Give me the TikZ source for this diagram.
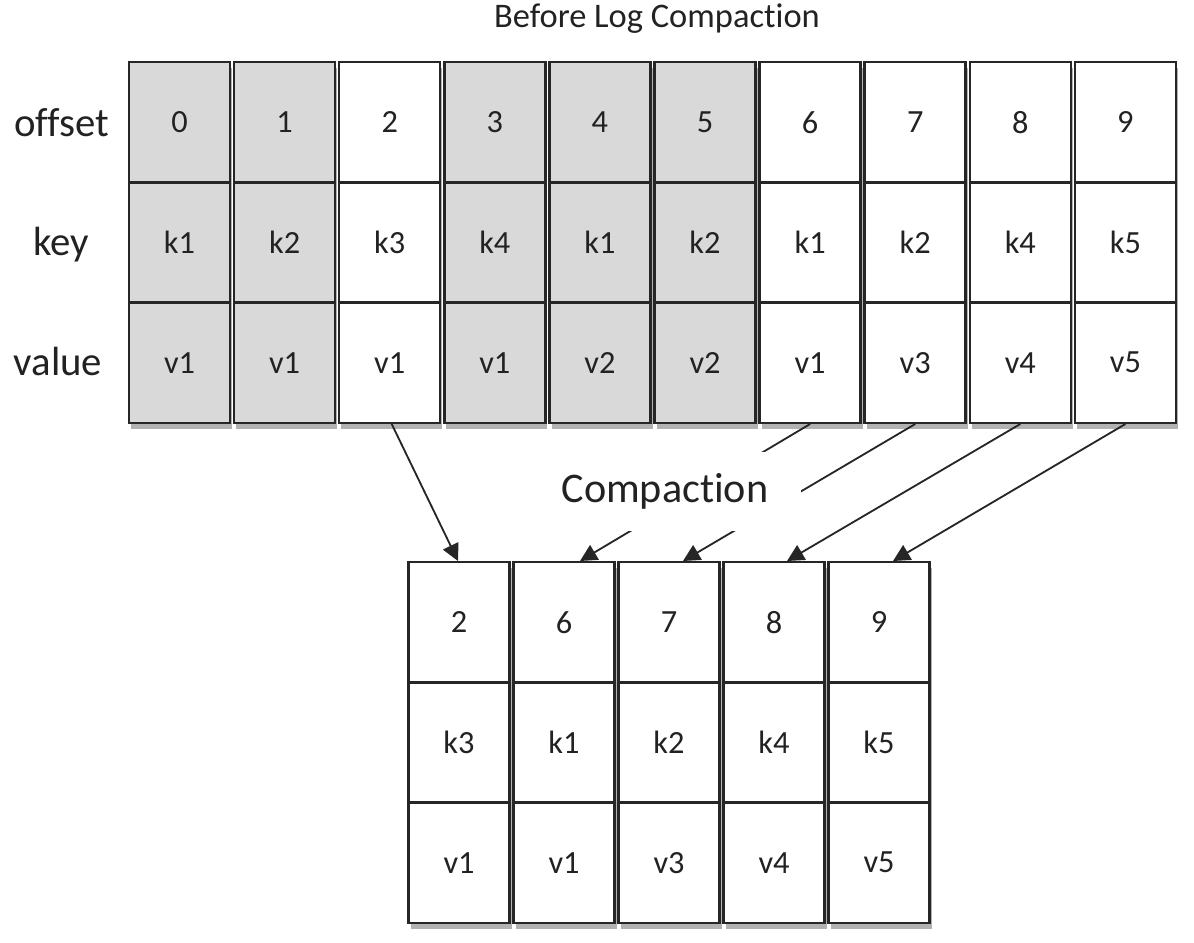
\documentclass[tikz,border=0pt]{standalone}
\usepackage{fontspec}
\setmainfont[Ligatures={NoCommon}]{Carlito}
\usetikzlibrary{arrows.meta,shadows,calc}
\definecolor{cellgray}{HTML}{D9D9D9}
\definecolor{ink}{HTML}{222222}
\definecolor{edge}{HTML}{262626}
\begin{document}
\begin{tikzpicture}[x=0.025cm,y=-0.025cm,
  colbox/.style={draw=edge, line width=1.8pt, minimum width=2.525cm, minimum height=9.025cm,
    inner sep=0pt, drop shadow={shadow xshift=1.5pt, shadow yshift=-4pt, opacity=0.3, fill=black}},
  cellbox/.style={draw=edge, line width=1.6pt, minimum width=2.525cm, minimum height=3.008cm,
    inner sep=0pt, text=ink, font=\fontsize{23}{27}\selectfont},
  rowlabel/.style={anchor=base, text=ink, font=\fontsize{29}{34}\selectfont},
  arr/.style={draw=edge, line width=1.3pt, -{Triangle[length=12pt,width=12pt]}}
]
\useasboundingbox (0,0) rectangle (1194,942);

\node[anchor=base, text=ink, font=\fontsize{24.5}{29}\selectfont] (title) at (657,27) {Before Log Compaction};

\node[rowlabel] (loff) at (62,136) {offset};
\node[rowlabel] (lkey) at (61,255) {key};
\node[rowlabel] (lval) at (58,375) {value};

\foreach \i/\o/\k/\v/\f in {0/0/k1/v1/cellgray, 1/1/k2/v1/cellgray, 2/2/k3/v1/white,
  3/3/k4/v1/cellgray, 4/4/k1/v2/cellgray, 5/5/k2/v2/cellgray, 6/6/k1/v1/white,
  7/7/k2/v3/white, 8/8/k4/v4/white, 9/9/k5/v5/white} {
  \node[colbox, fill=\f] (tc\i) at ({179.5+105.1*\i},242.5) {};
  \node[cellbox] (to\i) at ({179.5+105.1*\i},122.3) {\o};
  \node[cellbox] (tk\i) at ({179.5+105.1*\i},242.5) {\k};
  \node[cellbox] (tv\i) at ({179.5+105.1*\i},362.7) {\v};
}

\foreach \j/\o/\k/\v in {0/2/k3/v1, 1/6/k1/v1, 2/7/k2/v3, 3/8/k4/v4, 4/9/k5/v5} {
  \node[colbox, fill=white] (bc\j) at ({459+105*\j},742.5) {};
  \node[cellbox] (bo\j) at ({459+105*\j},622.3) {\o};
  \node[cellbox] (bk\j) at ({459+105*\j},742.5) {\k};
  \node[cellbox] (bv\j) at ({459+105*\j},862.7) {\v};
}

\draw[arr] ($(tv2.south)+(2,0)$) -- ($(bo0.north)+(-1,0)$);
\draw[arr] (tv6.south) -- ($(bo1.north)+(16,0)$);
\draw[arr] (tv7.south) -- ($(bo2.north)+(14,0)$);
\draw[arr] (tv8.south) -- ($(bo3.north)+(13,0)$);
\draw[arr] (tv9.south) -- ($(bo4.north)+(14,0)$);

\node[fill=white, minimum width=6.8cm, minimum height=1.975cm, inner sep=0pt,
  text=ink, font=\fontsize{30}{36}\selectfont] (comp) at (665,491) {Compaction};
\end{tikzpicture}
\end{document}
